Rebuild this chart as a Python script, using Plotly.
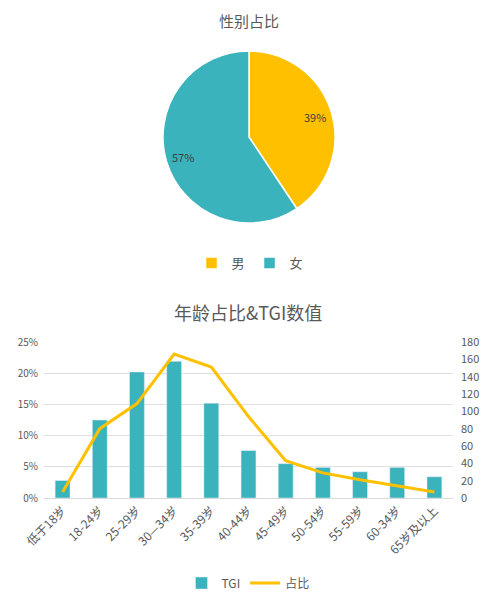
import math
import plotly.graph_objects as go

# 性别占比
gender_labels = ["男", "女"]
gender_values = [39, 57]

# 年龄占比 & TGI
age_labels = ["低于18岁", "18-24岁", "25-29岁", "30—34岁", "35-39岁", "40-44岁",
              "45-49岁", "50-54岁", "55-59岁", "60-34岁", "65岁及以上"]
tgi_bar = [0.028, 0.125, 0.202, 0.219, 0.152, 0.076, 0.055, 0.049, 0.042, 0.049, 0.034]
share_line = [7, 80, 109, 166, 151, 94, 43, 29, 21, 14, 7]

TEAL = "#3AB3BC"
GOLD = "#FFC000"
GREY = "#595959"
FONT = "Noto Sans CJK SC"

W, H = 495, 594
OFF = 8                      # 頁面 body 預設 8px 邊距,整體往左上補回
FW, FH = W - OFF, H - OFF


def px_x(x):
    return (x - OFF) / FW


def px_y(y):
    return 1 - (y - OFF) / FH


# 圓餅位置(像素)
PIE_CX, PIE_CY, PIE_R = 249, 137, 86

fig = go.Figure()

fig.add_trace(go.Pie(
    labels=gender_labels, values=gender_values, sort=False, direction="clockwise",
    rotation=0, marker=dict(colors=[GOLD, TEAL], line=dict(color="white", width=1.5)),
    textinfo="none",
    domain=dict(x=[px_x(PIE_CX - PIE_R), px_x(PIE_CX + PIE_R)],
                y=[px_y(PIE_CY + PIE_R), px_y(PIE_CY - PIE_R)]),
    legend="legend", hoverinfo="label+value"))

# 圓餅百分比標籤:放在各扇形中線、約 0.8 半徑處
annotations = []
total = sum(gender_values)
cum = 0
for v in gender_values:
    mid = (cum + v / 2) / total * 2 * math.pi
    cum += v
    tx = PIE_CX + 0.8 * PIE_R * math.sin(mid)
    ty = PIE_CY - 0.8 * PIE_R * math.cos(mid)
    annotations.append(dict(text=f"{v}%", x=px_x(tx), y=px_y(ty), xref="paper", yref="paper",
                            xanchor="center", yanchor="middle", showarrow=False,
                            font=dict(size=11, color="#404040")))

fig.add_trace(go.Bar(
    x=age_labels, y=tgi_bar, name="TGI", marker_color=TEAL,
    xaxis="x", yaxis="y", legend="legend2"))

fig.add_trace(go.Scatter(
    x=age_labels, y=share_line, name="占比", mode="lines",
    line=dict(color=GOLD, width=3), xaxis="x", yaxis="y2", legend="legend2"))

annotations += [
    dict(text="性别占比", x=px_x(249), y=1, xref="paper", yref="paper",
         xanchor="center", yanchor="top", showarrow=False, font=dict(size=15, color=GREY)),
    dict(text="年龄占比&TGI数值", x=px_x(248), y=px_y(312), xref="paper", yref="paper",
         xanchor="center", yanchor="middle", showarrow=False, font=dict(size=18, color=GREY)),
]

fig.update_layout(
    width=FW, height=FH, margin=dict(l=0, r=0, t=0, b=0, autoexpand=False),
    paper_bgcolor="white", plot_bgcolor="white",
    font=dict(family=FONT, color=GREY, size=11),
    bargap=0.6,
    xaxis=dict(domain=[px_x(44), px_x(453)], anchor="y", tickangle=-45,
               tickfont=dict(size=12, color=GREY), showgrid=False, automargin=False,
               showline=True, linecolor="#D9D9D9", ticks=""),
    yaxis=dict(domain=[px_y(498), px_y(342)], range=[0, 0.25], dtick=0.05,
               tickformat=".0%", tickfont=dict(size=10, color=GREY), automargin=False,
               gridcolor="#E0E0E0", zeroline=False, anchor="x", ticklabelstandoff=5),
    yaxis2=dict(overlaying="y", side="right", range=[0, 180], dtick=20,
                showgrid=False, zeroline=False, anchor="x", automargin=False,
                tickfont=dict(size=11, color=GREY), ticklabelstandoff=7),
    legend=dict(orientation="h", x=px_x(250), xanchor="center", y=px_y(263), yanchor="middle",
                font=dict(size=13, color=GREY), itemwidth=30),
    legend2=dict(orientation="h", x=px_x(248), xanchor="center", y=px_y(583), yanchor="middle",
                 font=dict(size=12, color=GREY), itemwidth=30),
    annotations=annotations,
)

fig.write_html("out.html")
